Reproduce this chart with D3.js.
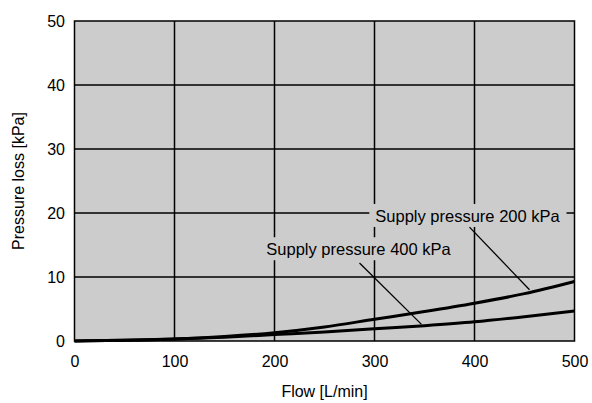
<!DOCTYPE html>
<html>
<head>
<meta charset="utf-8">
<script src="https://cdn.jsdelivr.net/npm/d3@7"></script>
<style>
  body { margin: 0; background: #fff; }
  text { font-family: "Liberation Sans", Arial, sans-serif; fill: #000; }
</style>
</head>
<body>
<script>
// values
var flow = [0, 50, 100, 150, 200, 250, 300, 350, 400, 450, 500];
var loss200 = [0, 0.1, 0.3, 0.7, 1.3, 2.2, 3.4, 4.6, 5.9, 7.4, 9.3];
var loss400 = [0, 0.1, 0.3, 0.6, 1.0, 1.4, 1.9, 2.4, 3.0, 3.8, 4.7];
var xTicks = [0, 100, 200, 300, 400, 500];
var yTicks = [0, 10, 20, 30, 40, 50];
var labels = [
  { text: "Supply pressure 200 kPa", at: [393, 18.6], from: [395, 17.8], to: [455, 8.0] },
  { text: "Supply pressure 400 kPa", at: [284, 13.4], from: [285, 12.2], to: [347, 2.6] }
];

var W = 592, H = 403;
var x = d3.scaleLinear().domain([0, 500]).range([74.5, 574.5]);
var y = d3.scaleLinear().domain([0, 50]).range([341, 21]);

var svg = d3.select("body").append("svg")
    .attr("width", W)
    .attr("height", H);

svg.append("rect")
    .attr("x", x(0)).attr("y", y(50))
    .attr("width", x(500) - x(0)).attr("height", y(0) - y(50))
    .attr("fill", "#cccccc");

// grid
svg.selectAll(".vgrid").data(xTicks.slice(1, -1)).enter().append("line")
    .attr("x1", function(d) { return x(d); }).attr("x2", function(d) { return x(d); })
    .attr("y1", y(0)).attr("y2", y(50))
    .attr("stroke", "#000").attr("stroke-width", 1.5);
svg.selectAll(".hgrid").data(yTicks.slice(1, -1)).enter().append("line")
    .attr("y1", function(d) { return y(d); }).attr("y2", function(d) { return y(d); })
    .attr("x1", x(0)).attr("x2", x(500))
    .attr("stroke", "#000").attr("stroke-width", 1.5);

// label backgrounds hide the grid behind the text
var lab = svg.selectAll(".lab").data(labels).enter().append("g");
lab.append("text")
    .attr("x", function(d) { return x(d.at[0]); })
    .attr("y", function(d) { return y(d.at[1]); })
    .attr("text-anchor", "middle")
    .attr("font-size", 16.5)
    .text(function(d) { return d.text; });
lab.each(function() {
  var g = d3.select(this);
  var b = g.select("text").node().getBBox();
  g.insert("rect", "text")
    .attr("x", b.x - 6).attr("y", b.y - 3)
    .attr("width", b.width + 12).attr("height", b.height + 5)
    .attr("fill", "#cccccc");
});
lab.append("line")
    .attr("x1", function(d) { return x(d.from[0]); })
    .attr("y1", function(d) { return y(d.from[1]); })
    .attr("x2", function(d) { return x(d.to[0]); })
    .attr("y2", function(d) { return y(d.to[1]); })
    .attr("stroke", "#000").attr("stroke-width", 1.3);

// border
svg.append("rect")
    .attr("x", x(0)).attr("y", y(50))
    .attr("width", x(500) - x(0)).attr("height", y(0) - y(50))
    .attr("fill", "none").attr("stroke", "#000").attr("stroke-width", 1.5);

// curves
var line = d3.line()
    .x(function(d) { return x(d[0]); })
    .y(function(d) { return y(d[1]); })
    .curve(d3.curveMonotoneX);
[loss200, loss400].forEach(function(s) {
  svg.append("path")
      .attr("d", line(flow.map(function(f, i) { return [f, s[i]]; })))
      .attr("fill", "none")
      .attr("stroke", "#000")
      .attr("stroke-width", 3);
});

// axes
var xAxis = svg.append("g")
    .attr("transform", "translate(0," + y(0) + ")")
    .call(d3.axisBottom(x).tickValues(xTicks).tickSize(0).tickPadding(15));
var yAxis = svg.append("g")
    .attr("transform", "translate(" + x(0) + ",0)")
    .call(d3.axisLeft(y).tickValues(yTicks).tickSize(0).tickPadding(9.5));
[xAxis, yAxis].forEach(function(a) {
  a.select(".domain").remove();
  a.selectAll("text").attr("font-size", 16)
      .attr("font-family", "'Liberation Sans', Arial, sans-serif");
});

svg.append("text")
    .attr("x", x(250)).attr("y", 397)
    .attr("text-anchor", "middle")
    .attr("font-size", 16)
    .text("Flow [L/min]");
svg.append("text")
    .attr("transform", "translate(24," + y(25) + ") rotate(-90)")
    .attr("text-anchor", "middle")
    .attr("font-size", 16)
    .text("Pressure loss [kPa]");
</script>
</body>
</html>
